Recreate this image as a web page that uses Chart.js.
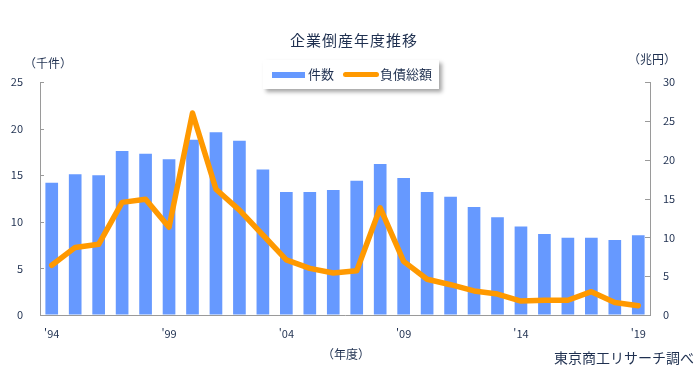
<!DOCTYPE html>
<html lang="ja">
<head>
    <meta charset="UTF-8">
    <title>企業倒産年度推移</title>
    <style>
        body {
            margin: 0;
            background: #fff;
            font-family: 'Noto Sans CJK JP', sans-serif;
            color: #1f3050;
        }
        .wrap {
            position: relative;
            width: 698px;
            height: 376px;
        }
        canvas { position: absolute; left: 0; top: 0; }
        .txt {
            position: absolute;
            white-space: nowrap;
            font-size: 12px;
            line-height: 1;
        }
        .legend {
            position: absolute;
            left: 263px;
            top: 60px;
            width: 176px;
            height: 29px;
            background: #fff;
            box-shadow: 3px 3px 4px rgba(0, 0, 0, 0.35);
            font-size: 13px;
        }
        .legend span { position: absolute; top: 7px; line-height: 1; }
        .sw { position: absolute; }
    </style>
</head>
<body>
<div class="wrap">
    <canvas id="c" width="698" height="376"></canvas>
    <div class="txt" style="left:290px;top:32px;font-size:15px;letter-spacing:1px;">企業倒産年度推移</div>
    <div class="txt" style="left:24px;top:57px;">（千件）</div>
    <div class="txt" style="left:628px;top:53px;">（兆円）</div>
    <div class="txt" style="left:322px;top:348px;">（年度）</div>
    <div class="txt" style="left:554px;top:350px;font-size:14px;">東京商工リサーチ調べ</div>
    <div class="legend">
        <div class="sw" style="left:9px;top:12px;width:33px;height:6px;background:#6699ff;"></div>
        <span style="left:45px;">件数</span>
        <div class="sw" style="left:80px;top:12px;width:36px;height:5px;border-radius:3px;background:#ff9900;"></div>
        <span style="left:117px;">負債総額</span>
    </div>
</div>

<script src="https://cdn.jsdelivr.net/npm/chart.js"></script>
<script>
    // data
    const years = ['94','95','96','97','98','99','00','01','02','03','04','05','06',
                   '07','08','09','10','11','12','13','14','15','16','17','18','19'];
    const cases = [14.2, 15.1, 15.0, 17.6, 17.3, 16.7, 18.8, 19.6, 18.7, 15.6, 13.2, 13.2, 13.4,
                   14.4, 16.2, 14.7, 13.2, 12.7, 11.6, 10.5, 9.5, 8.7, 8.3, 8.3, 8.05, 8.55];
    const debt = [6.4, 8.7, 9.1, 14.5, 14.9, 11.3, 26.0, 16.2, 13.5, 10.3, 7.1, 6.0, 5.4,
                  5.7, 13.8, 6.9, 4.6, 3.9, 3.1, 2.7, 1.8, 1.9, 1.9, 3.0, 1.6, 1.2];
    const leftTicks = [0, 5, 10, 15, 20, 25];
    const rightTicks = [0, 5, 10, 15, 20, 25, 30];

    const textColor = '#1f3050';
    const axisColor = '#9a9a9a';

    // short tick marks pointing into the plot
    const innerTicks = {
        id: 'innerTicks',
        afterDraw(chart) {
            const ctx = chart.ctx;
            const area = chart.chartArea;
            ctx.save();
            ctx.strokeStyle = axisColor;
            ctx.lineWidth = 1;
            leftTicks.forEach(v => {
                const y = Math.round(chart.scales.y.getPixelForValue(v)) + 0.5;
                ctx.beginPath();
                ctx.moveTo(area.left, y);
                ctx.lineTo(area.left + 4, y);
                ctx.stroke();
            });
            rightTicks.forEach(v => {
                const y = Math.round(chart.scales.y2.getPixelForValue(v)) + 0.5;
                ctx.beginPath();
                ctx.moveTo(area.right, y);
                ctx.lineTo(area.right - 5, y);
                ctx.stroke();
            });
            ctx.restore();
        }
    };

    new Chart(document.getElementById('c'), {
        data: {
            labels: years,
            datasets: [{
                type: 'bar',
                label: '件数',
                data: cases,
                yAxisID: 'y',
                backgroundColor: '#6699ff',
                barPercentage: 0.54,
                categoryPercentage: 1,
                order: 1
            }, {
                type: 'line',
                label: '負債総額',
                data: debt,
                yAxisID: 'y2',
                borderColor: '#ff9900',
                borderWidth: 5.5,
                borderJoinStyle: 'round',
                borderCapStyle: 'round',
                pointRadius: 0,
                tension: 0,
                order: 0
            }]
        },
        options: {
            responsive: false,
            animation: false,
            layout: { padding: { top: 82, left: 0, right: 0, bottom: 0 } },
            plugins: {
                legend: { display: false },
                tooltip: { enabled: false }
            },
            scales: {
                x: {
                    offset: true,
                    grid: { display: true, drawOnChartArea: false, drawTicks: false },
                    border: { color: axisColor },
                    afterFit: s => { s.height = 61; },
                    ticks: {
                        autoSkip: false,
                        maxRotation: 0,
                        padding: 12,
                        color: textColor,
                        font: { family: 'Noto Sans CJK JP', size: 11 },
                        callback: (v, i) => i % 5 === 0 ? "'" + years[i] : ''
                    }
                },
                y: {
                    position: 'left',
                    min: 0,
                    max: 25,
                    grid: { display: true, drawOnChartArea: false, drawTicks: false },
                    border: { color: axisColor },
                    afterFit: s => { s.width = 40; },
                    afterBuildTicks: s => { s.ticks = leftTicks.map(v => ({ value: v })); },
                    ticks: {
                        padding: 17,
                        color: textColor,
                        font: { family: 'Noto Sans CJK JP', size: 11 }
                    }
                },
                y2: {
                    position: 'right',
                    min: 0,
                    max: 30,
                    grid: { display: true, drawOnChartArea: false, drawTicks: false },
                    border: { color: axisColor },
                    afterFit: s => { s.width = 48; },
                    afterBuildTicks: s => { s.ticks = rightTicks.map(v => ({ value: v })); },
                    ticks: {
                        padding: 13,
                        color: textColor,
                        font: { family: 'Noto Sans CJK JP', size: 11 }
                    }
                }
            }
        },
        plugins: [innerTicks]
    });
</script>
</body>
</html>
